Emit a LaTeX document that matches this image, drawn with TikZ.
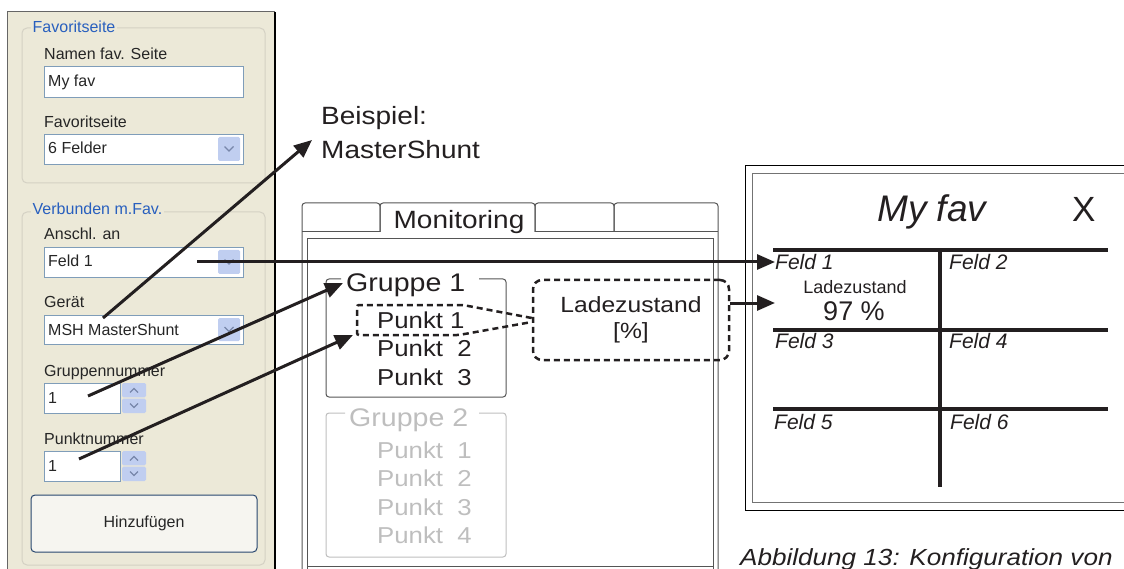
\documentclass[tikz,border=0pt]{standalone}
\usepackage{fontspec}
\setmainfont{Liberation Sans}
\newfontfamily\uifont{Liberation Sans}
\newfontfamily\widefont{Liberation Sans}[FakeStretch=1.12]
\usetikzlibrary{arrows.meta}
\newcommand\fsz[1]{\fontsize{#1}{#1}\selectfont}
\definecolor{beige}{RGB}{236,233,216}
\definecolor{xpblue}{RGB}{40,95,190}
\definecolor{gbline}{RGB}{212,209,196}
\definecolor{tbborder}{RGB}{127,157,185}
\definecolor{btnblue}{RGB}{192,206,240}
\definecolor{chev}{RGB}{120,135,170}
\definecolor{ink}{RGB}{35,31,32}
\definecolor{frame}{RGB}{85,85,85}
\definecolor{grayt}{RGB}{190,190,190}
\definecolor{btnborder}{RGB}{40,70,110}
\definecolor{btnfill}{RGB}{246,245,240}
\begin{document}
\begin{tikzpicture}[x=1pt,y=-1pt,
  ui/.style={inner sep=0pt, anchor=base west, font=\uifont\fsz{16}, text=black!85},
  lbl/.style={inner sep=0pt, inner xsep=1.5pt, anchor=base west, font=\uifont\fsz{16}, text=xpblue, fill=beige},
  tb/.style={draw=tbborder, fill=white, line width=0.9pt},
  cbtn/.style={fill=btnblue, rounded corners=1.5pt},
  chv/.style={draw=chev, line width=1.3pt},
  grpbox/.style={draw=gbline, line width=1pt, rounded corners=5pt},
  mid/.style={inner sep=0pt, anchor=base west, text=ink, font=\widefont\fsz{23}},
  midg/.style={mid, text=grayt},
  rfld/.style={inner sep=0pt, anchor=base west, text=ink, font=\itshape\fsz{21}},
  arr/.style={line width=3pt, draw=ink, -{Triangle[length=18pt,width=15pt]}},
  dsh/.style={draw=ink, line width=2.5pt, dash pattern=on 6pt off 4pt},
  grid/.style={draw=ink, line width=3.5pt},
  fr/.style={draw=frame, line width=1pt}]
\useasboundingbox (0,0) rectangle (1124,569);

% ---------------- left panel ----------------
\fill[beige] (7,12) rectangle (275,569);
\draw[draw=black!60, line width=1pt] (7,569) -- (7,12) -- (275,12);
\draw[draw=black, line width=1.2pt] (275,12) -- (275,569);

\draw[grpbox] (22,28) rectangle (265,183);
\node[lbl] (gFav) at (31,33) {Favoritseite};
\node[ui] (lName) at (44,60) {Namen fav. Seite};
\draw[tb] (44,66) rectangle (243,97);
\node[ui] (vName) at (48,87) {My fav};
\node[ui] (lFav) at (44,128) {Favoritseite};
\draw[tb] (44,134) rectangle (243,164);
\fill[cbtn] (218,137) rectangle (240,161);
\draw[chv] (224.5,146.5) -- (229,151) -- (233.5,146.5);
\node[ui] (vFav) at (48,153.5) {6 Felder};

\draw[grpbox] (22,212) rectangle (265,565);
\node[lbl] (gVer) at (31,215) {Verbunden m.Fav.};
\node[ui] (lAn) at (44,240) {Anschl. an};
\draw[tb] (44,247) rectangle (243,277);
\fill[cbtn] (218,250) rectangle (240,274);
\draw[chv] (224.5,259.5) -- (229,264) -- (233.5,259.5);
\node[ui] (vAn) at (48,267) {Feld 1};
\node[ui] (lGer) at (44,308) {Gerät};
\draw[tb] (44,315) rectangle (243,344);
\fill[cbtn] (218,318) rectangle (240,341);
\draw[chv] (224.5,327) -- (229,331.5) -- (233.5,327);
\node[ui] (vGer) at (48,335) {MSH MasterShunt};
\node[ui] (lGr) at (44,376.5) {Gruppennummer};
\draw[tb] (44,383) rectangle (120,413);
\fill[cbtn] (122,383) rectangle (146,397.3);
\fill[cbtn] (122,398.7) rectangle (146,413);
\draw[chv] (130,392.5) -- (134,388.5) -- (138,392.5);
\draw[chv] (130,403.5) -- (134,407.5) -- (138,403.5);
\node[ui] (vGr) at (48,403) {1};
\node[ui] (lPk) at (44,444) {Punktnummer};
\draw[tb] (44,451) rectangle (120,481);
\fill[cbtn] (122,451) rectangle (146,465.3);
\fill[cbtn] (122,466.7) rectangle (146,481);
\draw[chv] (130,460.5) -- (134,456.5) -- (138,460.5);
\draw[chv] (130,471.5) -- (134,475.5) -- (138,471.5);
\node[ui] (vPk) at (48,471.5) {1};
\node[draw=btnborder, fill=btnfill, line width=1pt, rounded corners=4pt,
      minimum width=226pt, minimum height=57pt, font=\uifont\fsz{16}, text=black!85]
      (bAdd) at (144,523.5) {Hinzufügen};

% ---------------- middle panel ----------------
\draw[fr, rounded corners=3pt] (302,569) -- (302,203) -- (380,203) -- (380,232);
\draw[fr, rounded corners=3pt] (302,232) -- (380,232);
\draw[fr, rounded corners=3pt] (380,232) -- (380,203) -- (535,203) -- (535,232);
\draw[fr, rounded corners=3pt] (535,232) -- (535,203) -- (614,203) -- (614,232);
\draw[fr, rounded corners=3pt] (614,232) -- (614,203) -- (718,203) -- (718,569);
\draw[fr] (535,232) -- (718,232);
\draw[fr] (307,569) -- (307,239) -- (713,239) -- (713,569);
\draw[fr] (307,566) -- (713,566);
\node[mid, font=\widefont\fsz{25}, anchor=base] (tabMon) at (459,228.3) {Monitoring};

\draw[fr, rounded corners=3pt] (341,279) -- (326,279) -- (326,397) -- (506,397) -- (506,279) -- (479,279);
\node[mid, font=\widefont\fsz{25.5}] (grp1) at (346,291.7) {Gruppe 1};
\node[mid] (p11) at (377,328.3) {Punkt 1};
\node[mid] (p12) at (377,356.7) {Punkt\ \ 2};
\node[mid] (p13) at (377,385) {Punkt\ \ 3};

\draw[draw=grayt, line width=1pt, rounded corners=3pt] (345,413) -- (326,413) -- (326,557) -- (506,557) -- (506,413) -- (479,413);
\node[midg, font=\widefont\fsz{25.5}] (grp2) at (349,426.7) {Gruppe 2};
\node[midg] (p21) at (377,458.3) {Punkt\ \ 1};
\node[midg] (p22) at (377,486.7) {Punkt\ \ 2};
\node[midg] (p23) at (377,515) {Punkt\ \ 3};
\node[midg] (p24) at (377,543.3) {Punkt\ \ 4};

\node[dsh, rounded corners=9pt, minimum width=196pt, minimum height=80pt,
      align=center, text=ink, font=\widefont\fsz{22}, inner sep=0pt]
      (lad) at (631,320) {\raisebox{-3pt}{Ladezustand}\\[4pt]\raisebox{-3pt}{[\%]}};
\draw[dsh, rounded corners=2pt] (lad.west |- 0,318) -- (463,305) -- (357,305) -- (357,335) -- (459,335) -- (lad.west |- 0,322);

\node[mid, font=\widefont\fsz{25}] (bsp1) at (321,125) {Beispiel:};
\node[mid, font=\widefont\fsz{25}] (bsp2) at (321,158.3) {MasterShunt};

% ---------------- right panel ----------------
\draw[draw=black, line width=1pt] (1124,166) -- (745,166) -- (745,510) -- (1124,510);
\draw[draw=black!55, line width=1pt] (1124,174) -- (752,174) -- (752,502) -- (1124,502);
\node[inner sep=0pt, anchor=base west, text=ink, font=\itshape\fsz{37}] (title) at (877,221.7) {My fav};
\node[inner sep=0pt, anchor=base west, text=ink, font=\fsz{35}] (close) at (1072,221.7) {X};
\draw[grid] (773,250) -- (1108,250);
\draw[grid] (773,330) -- (1108,330);
\draw[grid] (773,409) -- (1108,409);
\draw[grid] (940,250) -- (940,487);
\node[rfld] (f1) at (775,270) {Feld 1};
\node[rfld] (f2) at (949,270) {Feld 2};
\node[rfld] (f3) at (775,348.3) {Feld 3};
\node[rfld] (f4) at (949,348.3) {Feld 4};
\node[rfld] (f5) at (774,429) {Feld 5};
\node[rfld] (f6) at (950,429) {Feld 6};
\node[inner sep=0pt, anchor=base, text=ink, font=\fsz{18}] (cLad) at (855,293.3) {Ladezustand};
\node[inner sep=0pt, anchor=base, text=ink, font=\fsz{27}] (cVal) at (854,320) {97 \%};

\node[inner sep=0pt, anchor=base west, text=ink, font=\widefont\itshape\fsz{23.3}] (cap) at (740,565) {Abbildung 13: Konfiguration von};

% ---------------- connectors ----------------
\coordinate (sAn) at (197,262);
\coordinate (sGer) at (103,318);
\coordinate (sGr) at (88,396);
\coordinate (sPk) at (79,459);
\coordinate (tBsp) at (312,140);
\coordinate (tGr) at (343,283);
\coordinate (tPk) at (353,335);
\coordinate (tCell) at (775,303);
\draw[arr] (sAn) -- (sAn -| f1.west);
\draw[arr] (sGer) -- (tBsp);
\draw[arr] (sGr) -- (tGr);
\draw[arr] (sPk) -- (tPk);
\draw[arr] (lad.east |- tCell) -- (tCell);
\end{tikzpicture}
\end{document}
